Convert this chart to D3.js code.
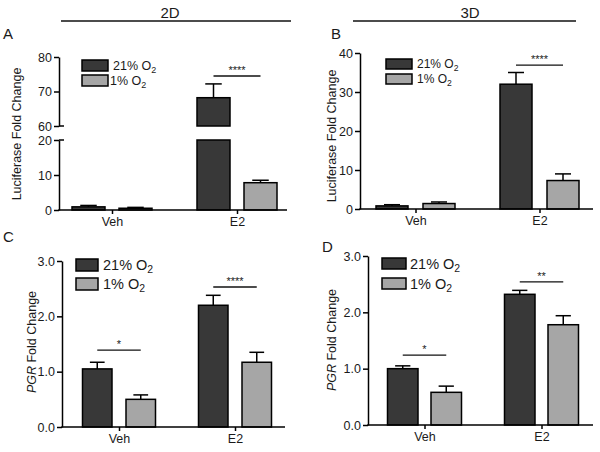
<!DOCTYPE html>
<html><head><meta charset="utf-8">
<script src="https://cdn.jsdelivr.net/npm/d3@7"></script>
<style>
body{margin:0;background:#fff}
svg{display:block}
text{font-family:"Liberation Sans",Arial,Helvetica,sans-serif;fill:#1a1a1a}
</style>
</head><body>
<svg id="c" width="600" height="452"></svg>
<script>
// ---------- data ----------
const groups = ["Veh", "E2"];
const seriesNames = ["21% O", "1% O"]; // subscript "2" added when drawn
const seriesColors = ["#383838", "#a6a6a6"];

// Panel A (2D, luciferase, broken axis)
const aMean21 = [0.9, 68.2], aErr21 = [0.4, 4.0];
const aMean1  = [0.5, 7.8],  aErr1  = [0.25, 0.7];
const aTicksLower = [0, 10, 20], aTicksUpper = [60, 70, 80];
const aSig = [{group: "E2", level: 74.5, label: "****"}];

// Panel B (3D, luciferase)
const bMean21 = [0.8, 32.0], bErr21 = [0.3, 3.0];
const bMean1  = [1.4, 7.3],  bErr1  = [0.4, 1.7];
const bTicks = [0, 10, 20, 30, 40];
const bSig = [{group: "E2", level: 36.9, label: "****"}];

// Panel C (2D, PGR)
const cMean21 = [1.05, 2.20], cErr21 = [0.12, 0.18];
const cMean1  = [0.50, 1.17], cErr1  = [0.08, 0.18];
const cTicks = [0, 1, 2, 3];
const cSig = [{group: "Veh", level: 1.39, label: "*"}, {group: "E2", level: 2.53, label: "****"}];

// Panel D (3D, PGR)
const dMean21 = [1.00, 2.32], dErr21 = [0.05, 0.07];
const dMean1  = [0.58, 1.78], dErr1  = [0.11, 0.16];
const dTicks = [0, 1, 2, 3];
const dSig = [{group: "Veh", level: 1.24, label: "*"}, {group: "E2", level: 2.54, label: "**"}];

const titles = ["2D", "3D"];
const letters = ["A", "B", "C", "D"];

// ---------- layout / options ----------
const fmtInt = d3.format("d"), fmt1 = d3.format(".1f");
const panels = [
  {letter: letters[0], means: [aMean21, aMean1], errs: [aErr21, aErr1], sig: aSig, fmt: fmtInt,
   ylab: [{t: "Luciferase Fold Change"}], ylx: 17, yly: 134,
   ax0: 59, ax1: 287, c: [112, 237], barW: 33, gap: 14,
   segs: [{domain: [0, 20], range: [210, 140], ticks: aTicksLower},
          {domain: [60, 80], range: [126, 57], ticks: aTicksUpper}],
   leg: {x: 82, y: [60, 75], w: 26, h: 11, tx: [113, 110], fs: 12.5},
   lx: 3, ly: 39},
  {letter: letters[1], means: [bMean21, bMean1], errs: [bErr21, bErr1], sig: bSig, fmt: fmtInt,
   ylab: [{t: "Luciferase Fold Change"}], ylx: 332, yly: 136,
   ax0: 360, ax1: 593, c: [415.5, 539.5], barW: 32, gap: 15,
   segs: [{domain: [0, 40], range: [209, 53], ticks: bTicks}],
   leg: {x: 386, y: [59, 74], w: 26, h: 10, tx: [417, 417], fs: 12},
   lx: 331, ly: 39},
  {letter: letters[2], means: [cMean21, cMean1], errs: [cErr21, cErr1], sig: cSig, fmt: fmt1,
   ylab: [{t: "PGR", i: true}, {t: " Fold Change"}], ylx: 32, yly: 342,
   ax0: 62, ax1: 285, c: [119, 235], barW: 29.5, gap: 14,
   segs: [{domain: [0, 3], range: [427, 261], ticks: cTicks}],
   leg: {x: 76, y: [259, 278], w: 22, h: 12, tx: [103, 103], fs: 14.5},
   lx: 3, ly: 242},
  {letter: letters[3], means: [dMean21, dMean1], errs: [dErr21, dErr1], sig: dSig, fmt: fmt1,
   ylab: [{t: "PGR", i: true}, {t: " Fold Change"}], ylx: 332, yly: 340,
   ax0: 368, ax1: 593, c: [424.5, 541.5], barW: 30.5, gap: 13,
   segs: [{domain: [0, 3], range: [425, 256], ticks: dTicks}],
   leg: {x: 382, y: [258, 278], w: 24, h: 11, tx: [410, 410], fs: 14.5},
   lx: 322, ly: 252}
];

const svg = d3.select("#c");

// column titles
[[titles[0], 170, 61, 291], [titles[1], 470, 353, 576]].forEach(([t, cx, l0, l1]) => {
  svg.append("text").attr("x", cx).attr("y", 18).attr("text-anchor", "middle")
    .style("font-size", "15px").text(t);
  svg.append("line").attr("x1", l0).attr("x2", l1).attr("y1", 21).attr("y2", 21)
    .attr("stroke", "#111").attr("stroke-width", 1.3);
});

panels.forEach(p => {
  const g = svg.append("g");
  // letter
  g.append("text").attr("x", p.lx).attr("y", p.ly).style("font-size", "15px").text(p.letter);

  const x = d3.scalePoint().domain(groups).range(p.c);
  const segs = p.segs.map(s => Object.assign({}, s, {y: d3.scaleLinear().domain(s.domain).range(s.range)}));
  const segFor = v => segs.find(s => v >= s.domain[0] && v <= s.domain[1]) || segs[segs.length - 1];

  // bars
  const barX = (gi, si) => x(groups[gi]) + (si === 0 ? -p.gap / 2 - p.barW : p.gap / 2);
  p.means.forEach((arr, si) => {
    arr.forEach((v, gi) => {
      const bx = barX(gi, si);
      segs.forEach(s => {
        if (v > s.domain[0]) {
          const top = s.y(Math.min(v, s.domain[1]));
          const bot = s.y(s.domain[0]);
          g.append("rect").attr("x", bx).attr("width", p.barW)
            .attr("y", top).attr("height", bot - top)
            .attr("fill", seriesColors[si]).attr("stroke", "#000").attr("stroke-width", 1.5);
        }
      });
      const e = p.errs[si][gi];
      const s = segFor(v + e);
      const cx = bx + p.barW / 2;
      g.append("line").attr("x1", cx).attr("x2", cx).attr("y1", s.y(v)).attr("y2", s.y(v + e))
        .attr("stroke", "#000").attr("stroke-width", 1.5);
      g.append("line").attr("x1", cx - p.barW / 4).attr("x2", cx + p.barW / 4)
        .attr("y1", s.y(v + e)).attr("y2", s.y(v + e))
        .attr("stroke", "#000").attr("stroke-width", 1.5);
    });
  });

  // y axes
  segs.forEach(s => {
    const ax = g.append("g").attr("transform", `translate(${p.ax0},0)`)
      .call(d3.axisLeft(s.y).tickValues(s.ticks).tickFormat(p.fmt).tickSize(5).tickSizeOuter(0).tickPadding(2));
    ax.selectAll("path,line").attr("stroke", "#000").attr("stroke-width", 1.5);
    ax.selectAll("text").style("font-size", "12.5px").attr("fill", "#1a1a1a");
  });
  if (segs.length > 1) {
    // break marks: ticks extend right at the break ends
    [segs[0].y(segs[0].domain[1]), segs[1].y(segs[1].domain[0])].forEach(yy => {
      g.append("line").attr("x1", p.ax0).attr("x2", p.ax0 + 5).attr("y1", yy).attr("y2", yy)
        .attr("stroke", "#000").attr("stroke-width", 1.5);
    });
  }

  // x axis
  const y0 = segs[0].y(0);
  const xa = g.append("g").attr("transform", `translate(0,${y0})`)
    .call(d3.axisBottom(x).tickSize(4).tickSizeOuter(0).tickPadding(3));
  xa.select(".domain").remove();
  xa.selectAll("line").attr("stroke", "#000").attr("stroke-width", 1.5);
  xa.selectAll("text").style("font-size", "12.5px").attr("fill", "#1a1a1a");
  g.append("line").attr("x1", p.ax0 - 0.75).attr("x2", p.ax1).attr("y1", y0).attr("y2", y0)
    .attr("stroke", "#000").attr("stroke-width", 1.5);

  // y label
  const yl = g.append("text").attr("transform", `translate(${p.ylx},${p.yly}) rotate(-90)`)
    .attr("text-anchor", "middle").attr("dy", "0.35em").style("font-size", "12.5px");
  p.ylab.forEach(part => {
    yl.append("tspan").style("font-style", part.i ? "italic" : "normal").text(part.t);
  });

  // significance
  p.sig.forEach(sg => {
    const s = segFor(sg.level);
    const yy = s.y(sg.level);
    const gi = groups.indexOf(sg.group);
    const xa1 = barX(gi, 0) + p.barW / 2, xa2 = barX(gi, 1) + p.barW / 2;
    g.append("line").attr("x1", xa1).attr("x2", xa2).attr("y1", yy).attr("y2", yy)
      .attr("stroke", "#111").attr("stroke-width", 1.4);
    g.append("text").attr("x", (xa1 + xa2) / 2).attr("y", yy - 2).attr("text-anchor", "middle")
      .style("font-size", "11px").text(sg.label);
  });

  // legend
  seriesNames.forEach((nm, si) => {
    g.append("rect").attr("x", p.leg.x).attr("y", p.leg.y[si]).attr("width", p.leg.w).attr("height", p.leg.h)
      .attr("fill", seriesColors[si]).attr("stroke", "#000").attr("stroke-width", 1.5);
    const t = g.append("text").attr("x", p.leg.tx[si]).attr("y", p.leg.y[si] + p.leg.h / 2)
      .attr("dy", "0.35em").style("font-size", p.leg.fs + "px");
    t.append("tspan").text(nm);
    t.append("tspan").attr("dy", "0.3em").style("font-size", (p.leg.fs * 0.72) + "px").text("2");
  });
});
</script>
</body></html>
